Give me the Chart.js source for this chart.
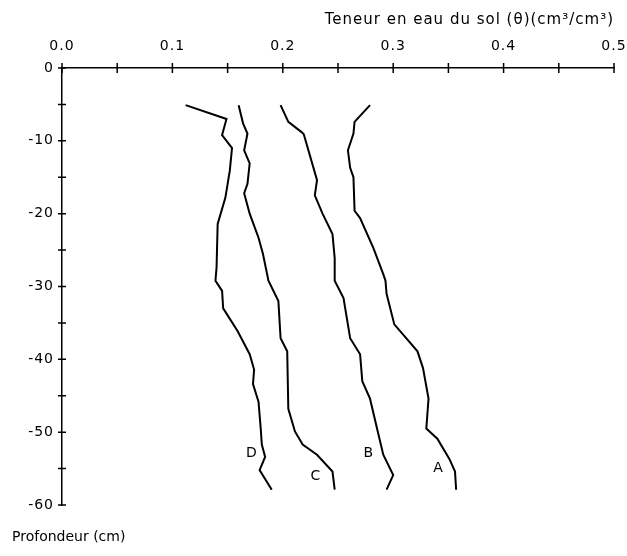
<!DOCTYPE html>
<html>
<head>
<meta charset="utf-8">
<script src="https://cdn.jsdelivr.net/npm/chart.js@4/dist/chart.umd.min.js"></script>
<style>
  html, body { margin: 0; padding: 0; background: #fff; }
  #wrap { width: 627px; height: 556px; }
</style>
</head>
<body>
<div id="wrap"><canvas id="c"></canvas></div>
<script>
// depth (cm) and water content (cm3/cm3)
const depthD = [-5.1, -7.0, -9.2, -11.0, -14.1, -17.8, -21.4, -27.4, -29.2, -30.6, -33.0, -36.1, -39.3, -41.4, -43.4, -45.8, -49.5, -51.7, -53.4, -55.2, -57.9]
const thetaD = [0.112, 0.149, 0.145, 0.154, 0.152, 0.148, 0.141, 0.140, 0.139, 0.145, 0.146, 0.159, 0.170, 0.174, 0.173, 0.178, 0.180, 0.181, 0.184, 0.179, 0.190]

const depthC = [-5.1, -7.6, -9.0, -11.3, -13.1, -15.9, -17.2, -20.0, -23.3, -25.5, -29.2, -32.0, -37.1, -38.9, -46.8, -49.9, -51.7, -53.1, -55.4, -57.9]
const thetaC = [0.160, 0.164, 0.168, 0.165, 0.170, 0.168, 0.165, 0.170, 0.178, 0.182, 0.187, 0.196, 0.198, 0.204, 0.205, 0.211, 0.218, 0.231, 0.245, 0.247]

const depthB = [-5.1, -7.4, -8.8, -9.1, -15.4, -17.5, -20.0, -22.8, -26.1, -29.2, -31.6, -37.1, -39.3, -43.0, -45.4, -49.9, -53.1, -55.9, -57.9]
const thetaB = [0.198, 0.205, 0.217, 0.219, 0.231, 0.229, 0.236, 0.245, 0.247, 0.247, 0.255, 0.261, 0.270, 0.272, 0.279, 0.286, 0.291, 0.300, 0.294]

const depthA = [-5.1, -7.4, -9.0, -11.3, -13.7, -15.0, -19.6, -20.6, -24.7, -28.3, -29.2, -31.0, -35.2, -38.9, -41.2, -45.4, -49.5, -50.9, -53.7, -55.4, -57.9]
const thetaA = [0.279, 0.265, 0.264, 0.259, 0.261, 0.264, 0.265, 0.270, 0.282, 0.291, 0.293, 0.294, 0.301, 0.322, 0.327, 0.332, 0.330, 0.340, 0.351, 0.356, 0.357]

// curve labels and where they sit
const curveNames = ['D', 'C', 'B', 'A']
const nameTheta = [0.172, 0.230, 0.278, 0.341]
const nameDepth = [-52.9, -56.0, -52.9, -55.0]

const xTitle = 'Teneur en eau du sol (θ)(cm³/cm³)'
const yTitle = 'Profondeur (cm)'

const FONT = '"DejaVu Sans", sans-serif'

function pts(xs, ys) {
  return xs.map((x, i) => ({ x: x, y: ys[i] }))
}

function curve(label, xs, ys) {
  return {
    label,
    data: pts(xs, ys),
    showLine: true,
    borderColor: '#000',
    borderWidth: 2,
    pointRadius: 0,
    tension: 0,
    fill: false
  }
}

// loose letter spacing like the original lettering
const spacing = {
  id: 'spacing',
  beforeDraw(chart) { chart.ctx.letterSpacing = '1px' }
}

// crossing tick marks + curve letters + depth title
const decor = {
  id: 'decor',
  afterDraw(chart) {
    const ctx = chart.ctx
    const xs = chart.scales.x, ys = chart.scales.y
    const area = chart.chartArea
    ctx.save()
    ctx.strokeStyle = '#000'
    ctx.lineWidth = 1.5
    ctx.beginPath()
    xs.ticks.forEach(t => {
      const p = xs.getPixelForValue(t.value)
      ctx.moveTo(p, area.top - 5)
      ctx.lineTo(p, area.top + 5)
    })
    ys.ticks.forEach(t => {
      const p = ys.getPixelForValue(t.value)
      ctx.moveTo(area.left - 4, p)
      ctx.lineTo(area.left + 4, p)
    })
    ctx.stroke()

    ctx.fillStyle = '#000'
    ctx.font = '14px ' + FONT
    ctx.textAlign = 'center'
    ctx.textBaseline = 'middle'
    curveNames.forEach((n, i) => {
      ctx.fillText(n, xs.getPixelForValue(nameTheta[i]), ys.getPixelForValue(nameDepth[i]))
    })

    ctx.textAlign = 'left'
    ctx.letterSpacing = '0px'
    ctx.fillText(yTitle, 12, 537)
    ctx.restore()
  }
}

new Chart(document.getElementById('c'), {
  type: 'scatter',
  data: {
    datasets: [
      curve('A', thetaA, depthA),
      curve('B', thetaB, depthB),
      curve('C', thetaC, depthC),
      curve('D', thetaD, depthD)
    ]
  },
  options: {
    responsive: true,
    maintainAspectRatio: false,
    animation: false,
    layout: { padding: { top: 0, right: 13, bottom: 51, left: 0 } },
    plugins: {
      legend: { display: false },
      tooltip: { enabled: false }
    },
    scales: {
      x: {
        type: 'linear',
        position: 'top',
        min: 0,
        max: 0.5,
        afterFit: (s) => { s.height = 68; s.paddingLeft = 0; s.paddingRight = 0 },
        grid: { display: false, drawTicks: false },
        border: { display: true, color: '#000', width: 1.5 },
        ticks: {
          stepSize: 0.05,
          padding: 13,
          color: '#000',
          font: { family: FONT, size: 14 },
          maxRotation: 0,
          autoSkip: false,
          callback: (v) => Math.round(v * 100) % 10 === 0 ? v.toFixed(1) : ''
        },
        title: {
          display: true,
          text: xTitle,
          align: 'end',
          color: '#000',
          font: { family: FONT, size: 15 },
          padding: { top: 11, bottom: 0 }
        }
      },
      y: {
        type: 'linear',
        min: -60,
        max: 0,
        afterFit: (s) => { s.width = 62 },
        grid: { display: false, drawTicks: false },
        border: { display: true, color: '#000', width: 1.5 },
        ticks: {
          stepSize: 5,
          padding: 8,
          color: '#000',
          font: { family: FONT, size: 14 },
          autoSkip: false,
          callback: (v) => v % 10 === 0 ? String(v) : ''
        }
      }
    }
  },
  plugins: [spacing, decor]
})
</script>
</body>
</html>
